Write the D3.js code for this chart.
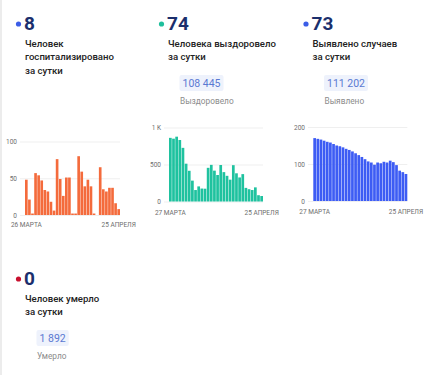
<!DOCTYPE html>
<html>
<head>
<meta charset="utf-8">
<script src="https://cdn.jsdelivr.net/npm/d3@7"></script>
<style>
  html, body { margin: 0; padding: 0; background: #fff; }
  svg { display: block; font-family: Roboto, "Noto Sans", sans-serif; }
</style>
</head>
<body>
<svg id="chart" width="430" height="375"></svg>
<script>
// ---------- data ----------
const hospDates = ["26.03","27.03","28.03","29.03","30.03","31.03","01.04","02.04","03.04","04.04","05.04","06.04","07.04","08.04","09.04","10.04","11.04","12.04","13.04","14.04","15.04","16.04","17.04","18.04","19.04","20.04","21.04","22.04","23.04","24.04","25.04"];
const hospValues = [48,21,2,57,54,47,34,32,18,6,76,49,26,51,51,2,2,80,59,39,48,39,2,0,65,35,32,37,37,16,8];
const hospYTicks = [0,50,100];
const hospYLabels = ["0","50","100"];
const hospXLabels = ["26 МАРТА","25 АПРЕЛЯ"];

const days30 = ["27.03","28.03","29.03","30.03","31.03","01.04","02.04","03.04","04.04","05.04","06.04","07.04","08.04","09.04","10.04","11.04","12.04","13.04","14.04","15.04","16.04","17.04","18.04","19.04","20.04","21.04","22.04","23.04","24.04","25.04"];
const recValues = [860,849,876,831,725,511,415,282,155,204,175,173,455,495,417,358,493,397,347,295,491,381,325,370,184,166,155,191,85,74];
const recYTicks = [0,500,1000];
const recYLabels = ["0","500","1 K"];
const recXLabels = ["27 МАРТА","25 АПРЕЛЯ"];

const caseValues = [170,168,166,163,160,158,154,150,148,145,141,138,134,129,124,119,113,107,104,98,104,102,106,104,109,105,97,82,78,73];
const caseYTicks = [0,100,200];
const caseYLabels = ["0","100","200"];
const caseXLabels = ["27 МАРТА","25 АПРЕЛЯ"];

const cardNumbers = ["8","74","73","0"];
const cardLines = [
  ["Человек","госпитализировано","за сутки"],
  ["Человека выздоровело","за сутки"],
  ["Выявлено случаев","за сутки"],
  ["Человек умерло","за сутки"]
];
const cardTotals = [null,"108 445","111 202","1 892"];
const cardTotalLabels = [null,"Выздоровело","Выявлено","Умерло"];

// ---------- drawing ----------
const svg = d3.select("#chart");
svg.append("rect").attr("width",430).attr("height",375).attr("fill","#fff");
svg.append("line").attr("x1",1).attr("x2",1).attr("y1",0).attr("y2",375)
  .attr("stroke","#ececec").attr("stroke-width",2);

const cardLayout = [
  {x:25, base:30, dot:"#3b5de7"},
  {x:168, base:30, dot:"#1fbf9c"},
  {x:312.5, base:30, dot:"#3b5de7"},
  {x:25, base:285, dot:"#c8102e"}
];

cardLayout.forEach((c,i) => {
  const g = svg.append("g");
  g.append("circle").attr("cx",c.x-6.5).attr("cy",c.base-6).attr("r",2.6).attr("fill",c.dot);
  g.append("text").attr("x",c.x-1).attr("y",c.base)
    .attr("font-size",19).attr("font-weight",700).attr("fill","#1b2f6d")
    .text(cardNumbers[i]);
  cardLines[i].forEach((t,j) => {
    g.append("text").attr("x",c.x).attr("y",c.base+16.5+j*13.8)
      .attr("font-size",9.6).attr("font-weight",500).attr("fill","#222")
      .text(t);
  });
  if (cardTotals[i]) {
    const by = c.base + 45;
    const tt = g.append("text").attr("x",c.x+14.5).attr("y",by+11.7)
      .attr("font-size",10.5).attr("fill","#5a79d2").text(cardTotals[i]);
    const w = tt.node().getComputedTextLength();
    g.insert("rect","text").attr("x",c.x+11.5).attr("y",by).attr("width",w+6).attr("height",16)
      .attr("rx",2).attr("fill","#eef2fc");
    g.append("text").attr("x",c.x+12).attr("y",by+28.5)
      .attr("font-size",8.3).attr("fill","#8c8c8c").text(cardTotalLabels[i]);
  }
});

function barChart(opt) {
  const x = d3.scaleBand().domain(opt.cats).range([opt.x0, opt.x1]).paddingInner(0.14).paddingOuter(0);
  const y = d3.scaleLinear().domain([0, opt.ymax]).range([opt.y0, opt.y1]);
  const g = svg.append("g");
  const ya = d3.axisLeft(y).tickValues(opt.yTicks)
    .tickFormat((d,i) => opt.yLabels[i])
    .tickSize(-(opt.x1 - opt.axisX)).tickPadding(3);
  const yg = g.append("g").attr("transform",`translate(${opt.axisX},0)`).call(ya);
  yg.select(".domain").remove();
  yg.selectAll("line").attr("stroke","#efefef");
  yg.selectAll("text").attr("font-size",6.5).attr("fill","#6e6e6e").attr("font-family","Roboto, sans-serif");
  g.append("g").selectAll("rect").data(opt.values).join("rect")
    .attr("x",(d,i) => x(opt.cats[i]))
    .attr("y",d => y(d))
    .attr("width",x.bandwidth())
    .attr("height",d => opt.y0 - y(d))
    .attr("fill",opt.color);
  const xa = d3.axisBottom(x).tickValues([opt.cats[0], opt.cats[opt.cats.length-1]])
    .tickFormat((d,i) => opt.xLabels[i]).tickSize(0).tickPadding(opt.xPad);
  const xg = g.append("g").attr("transform",`translate(0,${opt.y0})`).call(xa);
  xg.select(".domain").remove();
  xg.selectAll("text").attr("font-size",6.5).attr("fill","#6e6e6e").attr("font-family","Roboto, sans-serif");
}

barChart({cats:hospDates, values:hospValues, ymax:100, yTicks:hospYTicks, yLabels:hospYLabels,
  xLabels:hospXLabels, x0:25, x1:120, y0:215, y1:141.5, axisX:20, color:"#f46b3c", xPad:7});
barChart({cats:days30, values:recValues, ymax:1000, yTicks:recYTicks, yLabels:recYLabels,
  xLabels:recXLabels, x0:169, x1:263, y0:201.5, y1:127.5, axisX:164, color:"#1fc29f", xPad:8.5});
barChart({cats:days30, values:caseValues, ymax:200, yTicks:caseYTicks, yLabels:caseYLabels,
  xLabels:caseXLabels, x0:313.3, x1:407.3, y0:201, y1:127, axisX:308, color:"#3d5cf4", xPad:8});
</script>
</body>
</html>
